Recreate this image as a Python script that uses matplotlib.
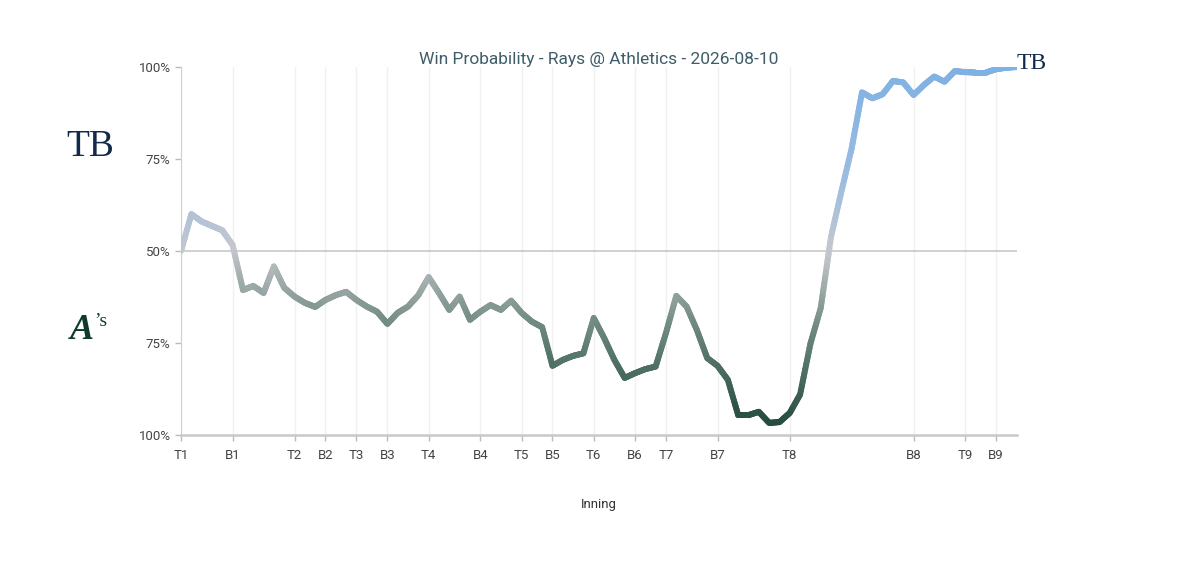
import numpy as np
import matplotlib
matplotlib.use("Agg")
import matplotlib.pyplot as plt
from matplotlib.collections import LineCollection
from matplotlib.colors import LinearSegmentedColormap

# Rays win probability (%) after each play
rays_wp = [50.0, 60.0, 58.0, 56.8, 55.6, 51.6, 39.4, 40.5, 38.6, 45.8,
           40.0, 37.6, 35.9, 34.8, 36.7, 38.0, 38.9, 36.7, 34.9, 33.5,
           30.2, 33.2, 34.9, 38.0, 42.9, 38.6, 34.0, 37.6, 31.3, 33.5,
           35.3, 34.0, 36.5, 33.2, 30.8, 29.3, 18.8, 20.4, 21.5, 22.2,
           31.8, 26.4, 20.4, 15.5, 16.8, 17.9, 18.6, 27.7, 37.8, 34.9,
           28.5, 20.9, 18.8, 15.0, 5.4, 5.4, 6.3, 3.3, 3.5, 6.0,
           11.0, 24.8, 34.5, 53.9, 66.1, 77.9, 93.1, 91.5, 92.6, 96.2,
           95.8, 92.4, 95.1, 97.4, 96.0, 98.9, 98.6, 98.5, 98.5, 99.4,
           99.8, 100.0]

inning_labels = ["T1", "B1", "T2", "B2", "T3", "B3", "T4", "B4", "T5", "B5",
                 "T6", "B6", "T7", "B7", "T8", "B8", "T9", "B9"]
inning_starts = [0, 5, 11, 14, 17, 20, 24, 29, 33, 36,
                 40, 44, 47, 52, 59, 71, 76, 79]

y_ticks = [0, 25, 50, 75, 100]
y_labels = ["100%", "75%", "50%", "75%", "100%"]

title = "Win Probability - Rays @ Athletics - 2026-08-10"

plt.rcParams['font.family'] = ['Roboto', 'DejaVu Sans']

fig = plt.figure(figsize=(11.99, 5.75), dpi=100)
ax = fig.add_axes([0.151, 0.2435, 0.697, 0.64])

x = np.arange(len(rays_wp))
y = np.array(rays_wp)

# split each segment finely so the colour can follow the value smoothly
sub = 12
pts = []
for i in range(len(x) - 1):
    t = np.linspace(0, 1, sub + 1)
    xs = x[i] + (x[i + 1] - x[i]) * t
    ys = y[i] + (y[i + 1] - y[i]) * t
    pts.extend(zip(xs[:-1], ys[:-1]))
pts.append((x[-1], y[-1]))
pts = np.array(pts)
segs = np.stack([pts[:-1], pts[1:]], axis=1)
mid = (pts[:-1, 1] + pts[1:, 1]) / 2

cmap = LinearSegmentedColormap.from_list(
    "wp", [(0.0, "#1d4535"), (0.3, "#6f8a81"), (0.5, "#c6c7cd"),
           (0.7, "#9cbde0"), (1.0, "#7eb1e4")])
lc = LineCollection(segs, cmap=cmap, linewidths=4.3, capstyle='round',
                    joinstyle='round', zorder=3)
lc.set_array(mid)
lc.set_clim(0, 100)
ax.add_collection(lc)

ax.set_xlim(0, len(rays_wp) - 1)
ax.set_ylim(0, 100)

ax.axhline(50, color="#c8c8c8", lw=1.2, zorder=1)
for xs in inning_starts:
    ax.axvline(xs, color="#f0f0f0", lw=1, zorder=0)

ax.set_xticks(inning_starts)
ax.set_xticklabels(inning_labels, fontsize=9.5)
ax.set_yticks(y_ticks)
ax.set_yticklabels(y_labels, fontsize=9.5)
ax.tick_params(axis='both', colors="#bbbbbb", length=4, width=1,
               labelcolor="#444444")
ax.tick_params(axis='x', pad=6)

for s in ['top', 'right']:
    ax.spines[s].set_visible(False)
ax.spines['left'].set_color("#d0d0d0")
ax.spines['bottom'].set_color("#c8c8c8")
ax.spines['bottom'].set_linewidth(1.8)

ax.set_xlabel("Inning", fontsize=9.5, color="#333333", labelpad=26)
ax.set_title(title, fontsize=12.5, color="#3e5d68", pad=1)

# team marks
navy = "#13294b"
green = "#0f3b2e"
fig.text(0.075, 0.745, "TB", fontsize=27, family="Liberation Serif",
         color=navy, ha='center', va='center')
fig.text(0.068, 0.425, "A", fontsize=26, family="Liberation Serif",
         style='italic', weight='bold', color=green, ha='center', va='center')
fig.text(0.084, 0.440, "\u2019s", fontsize=14, family="Liberation Serif",
         color=green, ha='center', va='center')
fig.text(0.860, 0.890, "TB", fontsize=17, family="Liberation Serif",
         color=navy, ha='center', va='center')

fig.savefig("out.png", dpi=100)
